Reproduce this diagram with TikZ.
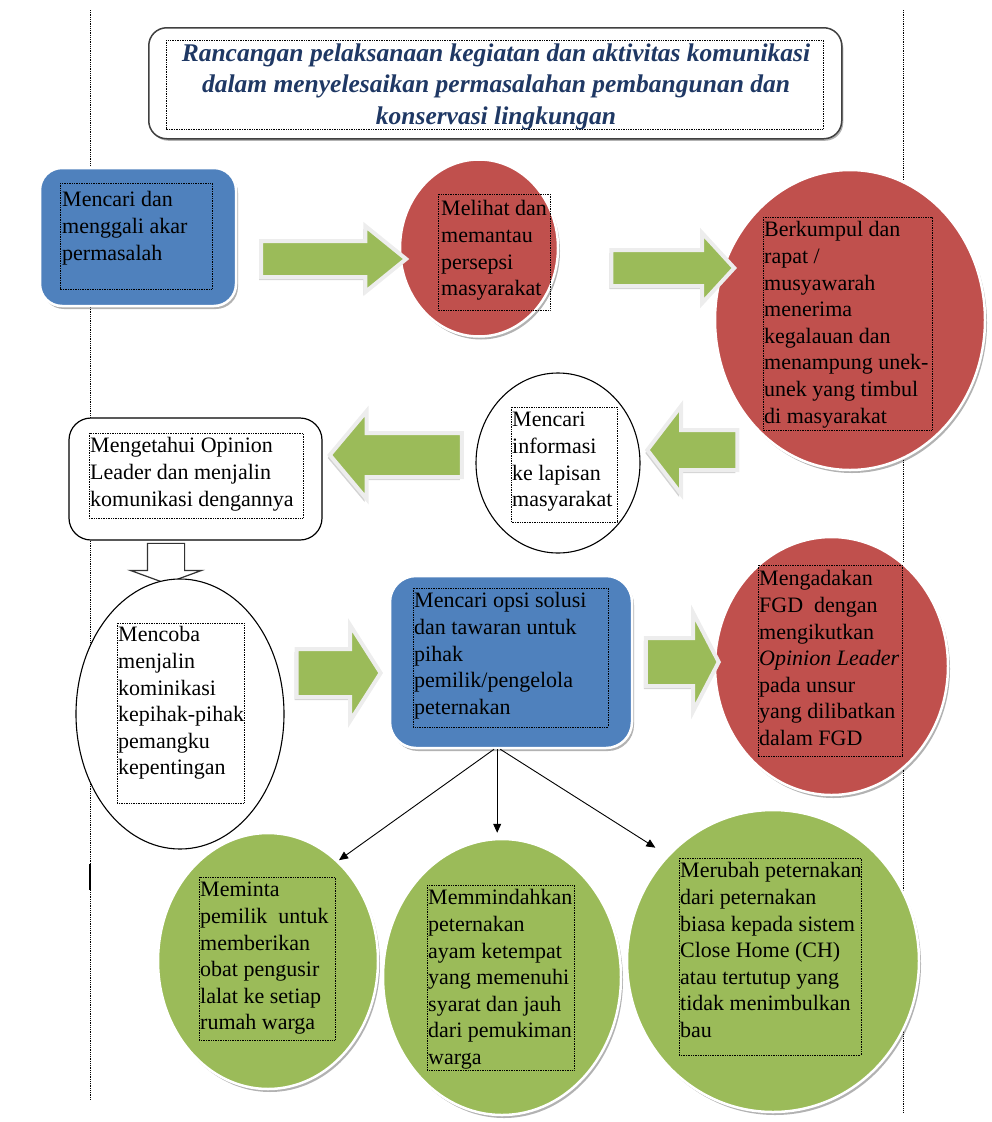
\documentclass[tikz,border=0pt]{standalone}
\usepackage{fontspec}
\setmainfont{Liberation Serif}
\usetikzlibrary{shapes.geometric,shapes.arrows,shadows,arrows.meta}
\definecolor{cblue}{HTML}{4F81BD}
\definecolor{cred}{HTML}{C0504D}
\definecolor{cgreen}{HTML}{9BBB59}
\definecolor{ctitle}{HTML}{1F3864}
\tikzset{
 bodytext/.style={font=\fontsize{22}{26.6}\selectfont, anchor=north west, inner sep=0pt, align=left},
 tframe/.style={densely dotted, line width=0.7pt},
 softshadow/.style={drop shadow={shadow xshift=2pt,shadow yshift=-3pt,opacity=.3,fill=black}},
 colshape/.style={draw=white, line width=2.5pt, softshadow},
 blueb/.style={colshape, fill=cblue, rectangle, rounded corners=22pt, inner sep=0pt},
 redell/.style={colshape, fill=cred, ellipse, inner sep=0pt},
 greenell/.style={colshape, fill=cgreen, ellipse, inner sep=0pt},
 whiteell/.style={draw=black, line width=1.1pt, fill=white, ellipse, inner sep=0pt},
 garrow/.style={single arrow, fill=cgreen, draw=white!93!black, line width=4pt, inner xsep=0pt, minimum width=0pt,
   drop shadow={shadow xshift=-2pt,shadow yshift=-3pt,opacity=.35,fill=black!50}},
 conn/.style={-{Triangle[length=9pt,width=8pt]}, line width=0.9pt},
}
\begin{document}
\begin{tikzpicture}[x=1pt,y=-1pt]
\useasboundingbox (0,0) rectangle (991,1122);
% page guide lines
\draw[densely dotted, line width=0.8pt] (90,10) -- (90,1100);
\draw[densely dotted, line width=0.8pt] (903,10) -- (903,1112);
\draw[line width=1.6pt] (90,864) -- (90,890);

% title
\node[draw=black!75, line width=1.5pt, rounded corners=18pt, minimum width=693pt, minimum height=111pt, anchor=north west, fill=white,
  drop shadow={shadow xshift=1.5pt,shadow yshift=-2pt,opacity=.3,fill=black}] (title) at (148,27) {};
\draw[tframe] (166,40) rectangle (823,129);
\node[anchor=north, inner sep=0pt, align=center, text=ctitle, font=\fontsize{25.5}{31.5}\selectfont\bfseries\itshape] (titletext) at (496,39)
 {\strut Rancangan pelaksanaan kegiatan dan aktivitas komunikasi\\ dalam menyelesaikan permasalahan pembangunan dan\\ konservasi lingkungan};

% row 1
\node[blueb, minimum width=196pt, minimum height=138pt] (b1) at (138,237) {};
\node[redell, minimum width=158pt, minimum height=177pt] (c2) at (479,248) {};
\node[redell, minimum width=270pt, minimum height=300pt] (e3) at (850,320) {};
\node[garrow, minimum height=145pt, inner ysep=16pt, single arrow head extend=15pt, single arrow tip angle=78] (a1) at (322.5,259) {};
\node[garrow, minimum height=123pt, inner ysep=16pt, single arrow head extend=17pt, single arrow tip angle=95] (a2) at (664.5,268) {};

% row 2
\node[draw=black, line width=1.2pt, fill=white, rectangle, rounded corners=22pt, minimum width=253pt, minimum height=122pt] (bm) at (195.5,479) {};
\node[whiteell, minimum width=164pt, minimum height=180pt] (c4) at (558,463) {};
\node[garrow, shape border rotate=180, minimum height=132pt, inner ysep=20pt, single arrow head extend=22pt, single arrow tip angle=100] (a3) at (405,455) {};
\node[garrow, shape border rotate=180, minimum height=90pt, inner ysep=18pt, single arrow head extend=24pt, single arrow tip angle=105] (a4) at (700,450) {};

% hollow arrow
\node[single arrow, shape border rotate=270, draw=black!80, line width=1.2pt, fill=white, inner ysep=0pt, minimum width=0pt,
  minimum height=40pt, inner xsep=18pt, single arrow head extend=17pt, single arrow tip angle=140] (h1) at (166,560) {};

% row 3
\node[whiteell, minimum width=208pt, minimum height=270pt] (cm) at (180,714) {};
\node[blueb, rounded corners=26pt, minimum width=242pt, minimum height=172pt] (b2) at (511,662) {};
\node[redell, minimum width=233pt, minimum height=258pt] (e5) at (831.5,666) {};
\node[garrow, minimum height=84pt, inner ysep=22pt, single arrow head extend=24pt, single arrow tip angle=115] (a5) at (331,673) {};
\node[garrow, minimum height=73pt, inner ysep=22pt, single arrow head extend=25pt, single arrow tip angle=125] (a6) at (676,662) {};

% row 4
\node[greenell, minimum width=220pt, minimum height=256pt] (g1) at (268,961) {};
\node[greenell, minimum width=238pt, minimum height=276pt] (g2) at (502,977) {};
\node[greenell, minimum width=292pt, minimum height=302pt] (g3) at (773,961) {};

% connectors
\draw[conn, shorten >=1pt] (b2.-101) -- (g1.55);
\draw[conn, shorten >=5pt] (b2.-99) -- (b2.-99 |- g2.north);
\draw[conn, shorten >=14pt] (b2.-97) -- (g3.135);

% text frames
\draw[tframe] (60,183) rectangle (212,289);
\draw[tframe] (438,194) rectangle (550,310);
\draw[tframe] (763,217) rectangle (932,430);
\draw[tframe] (89,433) rectangle (303,518);
\draw[tframe] (511,407) rectangle (617,522);
\draw[tframe] (117,623) rectangle (244,803);
\draw[tframe] (413,588) rectangle (608,727);
\draw[tframe] (758,565) rectangle (902,756);
\draw[tframe] (199,877) rectangle (335,1040);
\draw[tframe] (427,885) rectangle (574,1070);
\draw[tframe] (679,858) rectangle (861,1055);

% texts
\node[bodytext] (t1) at (62,188) {\strut Mencari dan\\ menggali akar\\ permasalah};
\node[bodytext] (t2) at (441,197) {\strut Melihat dan\\ memantau\\ persepsi\\ masyarakat};
\node[bodytext] (t3) at (764,218) {\strut Berkumpul dan\\ rapat /\\ musyawarah\\ menerima\\ kegalauan dan\\ menampung unek-\\ unek yang timbul\\ di masyarakat};
\node[bodytext] (tm) at (90,434) {\strut Mengetahui Opinion\\ Leader dan menjalin\\ komunikasi dengannya};
\node[bodytext] (t4) at (512,408) {\strut Mencari\\ informasi\\ ke lapisan\\ masyarakat};
\node[bodytext] (tc) at (118,623) {\strut Mencoba\\ menjalin\\ kominikasi\\ kepihak-pihak\\ pemangku\\ kepentingan};
\node[bodytext] (tb2) at (414,589) {\strut Mencari opsi solusi\\ dan tawaran untuk\\ pihak\\ pemilik/pengelola\\ peternakan};
\node[bodytext] (t5) at (759,567) {\strut Mengadakan\\ FGD~ dengan\\ mengikutkan\\ \textit{Opinion Leader}\\ pada unsur\\ yang dilibatkan\\ dalam FGD};
\node[bodytext] (tg1) at (200,878) {\strut Meminta\\ pemilik~ untuk\\ memberikan\\ obat pengusir\\ lalat ke setiap\\ rumah warga};
\node[bodytext] (tg2) at (428,886) {\strut Memmindahkan\\ peternakan\\ ayam ketempat\\ yang memenuhi\\ syarat dan jauh\\ dari pemukiman\\ warga};
\node[bodytext] (tg3) at (680,859) {\strut Merubah peternakan\\ dari peternakan\\ biasa kepada sistem\\ Close Home (CH)\\ atau tertutup yang\\ tidak menimbulkan\\ bau};
\end{tikzpicture}
\end{document}
